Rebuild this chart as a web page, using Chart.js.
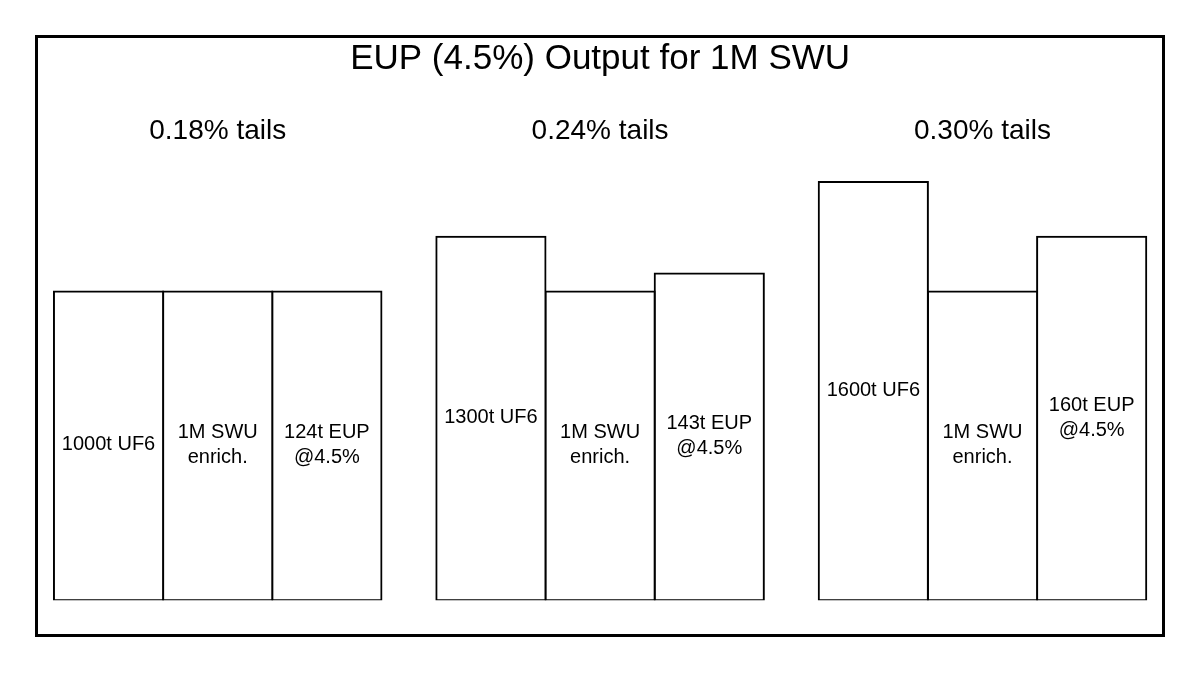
<!DOCTYPE html>
<html>
<head>
<meta charset="utf-8">
<title>EUP (4.5%) Output for 1M SWU</title>
<script src="https://cdn.jsdelivr.net/npm/chart.js@4.4.1/dist/chart.umd.min.js"></script>
<style>
    html, body { margin: 0; padding: 0; background: #fff; }
    #wrap { position: relative; width: 1200px; height: 673px; }
    #frame {
        position: absolute; left: 35px; top: 35px; width: 1130px; height: 602px;
        box-sizing: border-box; border: 3px solid #000; pointer-events: none;
    }
    canvas { position: absolute; left: 0; top: 0; }
</style>
</head>
<body>
<div id="wrap">
    <canvas id="eupChart" width="1200" height="673"></canvas>
    <div id="frame"></div>
</div>
<script>
// Tails assay groups
const tailsLabels = ['0.18% tails', '0.24% tails', '0.30% tails'];

// Relative block heights (1000t UF6 block = 100)
const feedHeights = [100, 117.7, 135.4];
const swuHeights = [100, 100, 100];
const eupHeights = [100, 105.8, 117.7];

// Text written inside each block
const feedText = [['1000t UF6'], ['1300t UF6'], ['1600t UF6']];
const swuText = [['1M SWU', 'enrich.'], ['1M SWU', 'enrich.'], ['1M SWU', 'enrich.']];
const eupText = [['124t EUP', '@4.5%'], ['143t EUP', '@4.5%'], ['160t EUP', '@4.5%']];

const FONT = '"Liberation Sans", Arial, sans-serif';

// draws the block captions centred in every bar
const blockText = {
    id: 'blockText',
    afterDatasetsDraw(chart) {
        const ctx = chart.ctx;
        ctx.save();
        ctx.font = '20px ' + FONT;
        ctx.fillStyle = '#000';
        ctx.textAlign = 'center';
        ctx.textBaseline = 'middle';
        chart.data.datasets.forEach((ds, i) => {
            const meta = chart.getDatasetMeta(i);
            meta.data.forEach((bar, j) => {
                const lines = ds.captions[j];
                const lh = 25;
                const mid = (bar.y + bar.base) / 2 - 1;
                const start = mid - (lines.length - 1) * lh / 2;
                lines.forEach((t, k) => ctx.fillText(t, bar.x, start + k * lh));
            });
        });
        ctx.restore();
    }
};

function block(data, captions) {
    return {
        data: data,
        captions: captions,
        backgroundColor: '#fff',
        borderColor: '#000',
        borderWidth: 2,
        borderSkipped: false,
        inflateAmount: 1,
        barPercentage: 1,
        categoryPercentage: 0.8565
    };
}

new Chart(document.getElementById('eupChart'), {
    type: 'bar',
    data: {
        labels: tailsLabels,
        datasets: [
            block(feedHeights, feedText),
            block(swuHeights, swuText),
            block(eupHeights, eupText)
        ]
    },
    options: {
        responsive: false,
        animation: false,
        layout: { padding: { left: 26.5, right: 26.3, top: 0, bottom: 72.7 } },
        scales: {
            x: {
                position: 'top',
                grid: { display: false, drawTicks: false },
                border: { display: false },
                ticks: { color: '#000', font: { family: FONT, size: 28 }, padding: 20 }
            },
            y: {
                display: false,
                min: 0,
                max: 140
            }
        },
        plugins: {
            legend: { display: false },
            tooltip: { enabled: false },
            title: {
                display: true,
                text: 'EUP (4.5%) Output for 1M SWU',
                color: '#000',
                font: { family: FONT, size: 35, weight: 'normal' },
                padding: { top: 38, bottom: 14.3 }
            }
        }
    },
    plugins: [blockText]
});
</script>
</body>
</html>
